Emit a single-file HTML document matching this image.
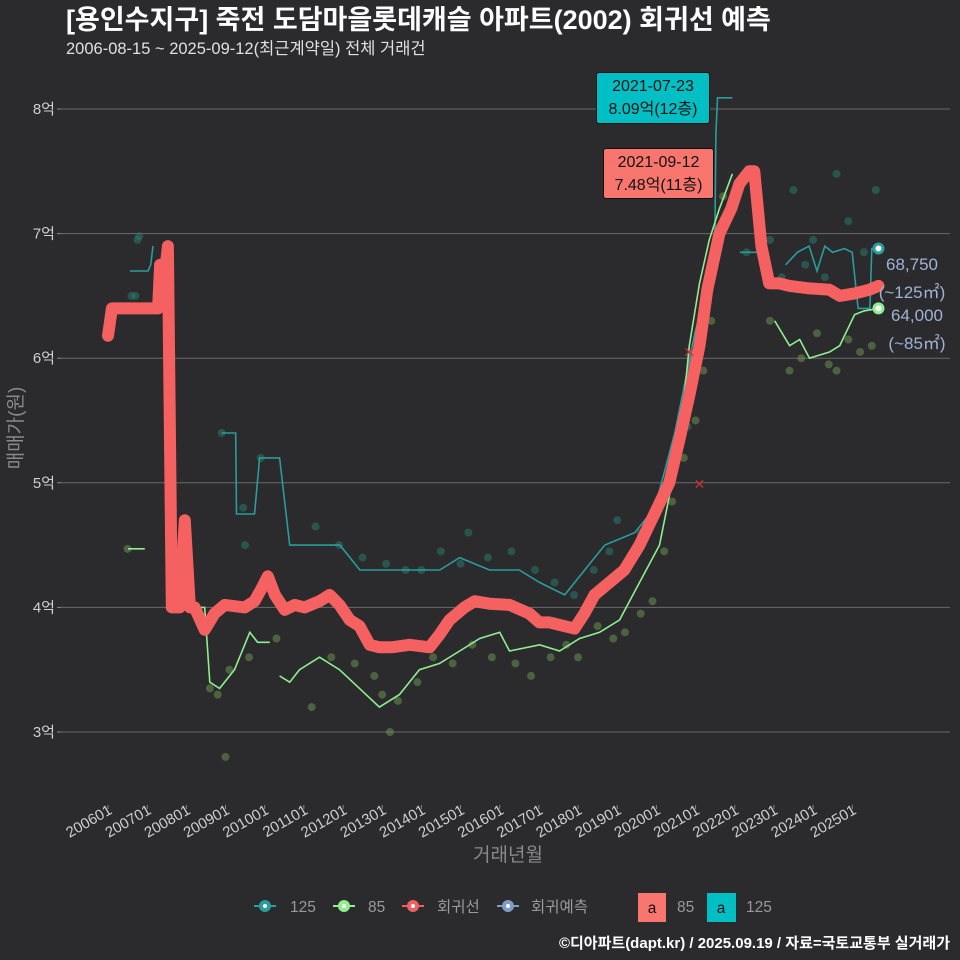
<!DOCTYPE html>
<html><head><meta charset="utf-8">
<style>
html,body{margin:0;padding:0;background:#2b2a2c;}
svg{display:block;font-family:"Liberation Sans","Noto Sans CJK KR",sans-serif;}
</style></head>
<body>
<svg id="chart" width="960" height="960" viewBox="0 0 960 960" xmlns="http://www.w3.org/2000/svg">
<rect width="960" height="960" fill="#2b2a2c"/>
<text x="66" y="29" font-size="27" font-weight="bold" fill="#ffffff">[용인수지구] 죽전 도담마을롯데캐슬 아파트(2002) 회귀선 예측</text>
<text x="66" y="54" font-size="16.5" fill="#e0e0e0">2006-08-15 ~ 2025-09-12(최근계약일) 전체 거래건</text>
<g id="grid"></g>
<g id="scatter"></g>
<g id="lines"></g>
<g id="axes"></g>
<g id="annot"></g>
<text x="508" y="861" font-size="19" fill="#8a8a8a" text-anchor="middle">거래년월</text>
<text transform="translate(22,428) rotate(-90)" font-size="19" fill="#8a8a8a" text-anchor="middle">매매가(원)</text>
<g font-size="15.5" fill="#9a9a9a">
 <g><line x1="254" y1="906" x2="276" y2="906" stroke="#2a9d9d" stroke-width="2"/><circle cx="265" cy="906" r="6" fill="#2a9d9d"/><circle cx="265" cy="906" r="2" fill="#fff"/><text x="290" y="912">125</text></g>
 <g><line x1="333" y1="906" x2="355" y2="906" stroke="#90ee90" stroke-width="2"/><circle cx="344" cy="906" r="6" fill="#90ee90"/><circle cx="344" cy="906" r="2" fill="#fff"/><text x="368" y="912">85</text></g>
 <g><line x1="402" y1="906" x2="424" y2="906" stroke="#f06060" stroke-width="2"/><circle cx="413" cy="906" r="6" fill="#f06060"/><circle cx="413" cy="906" r="2" fill="#fff"/><text x="437" y="912">회귀선</text></g>
 <g><line x1="497" y1="906" x2="519" y2="906" stroke="#7f9cc4" stroke-width="2"/><circle cx="508" cy="906" r="6" fill="#7f9cc4"/><circle cx="508" cy="906" r="2" fill="#fff"/><text x="531" y="912">회귀예측</text></g>
 <g><rect x="638" y="893" width="28" height="29" fill="#f8766d"/><text x="652" y="913" fill="#111" text-anchor="middle">a</text><text x="677" y="912">85</text></g>
 <g><rect x="707" y="893" width="29" height="29" fill="#00bfc4"/><text x="721" y="913" fill="#111" text-anchor="middle">a</text><text x="746" y="912">125</text></g>
</g>
<text x="950" y="948" font-size="15" font-weight="bold" fill="#ffffff" text-anchor="end">©디아파트(dapt.kr) / 2025.09.19 / 자료=국토교통부 실거래가</text>
</svg>
<script>
const yTicks=[3,4,5,6,7,8];
const xTickYears=[2006,2007,2008,2009,2010,2011,2012,2013,2014,2015,2016,2017,2018,2019,2020,2021,2022,2023,2024,2025];
const regYears=[2006.0,2006.1,2007.07,2007.28,2007.33,2007.43,2007.53,2007.63,2007.83,2007.96,2008.09,2008.21,2008.47,2008.72,2008.98,2009.49,2009.74,2009.92,2010.08,2010.26,2010.51,2010.77,2011.02,2011.4,2011.66,2011.91,2012.17,2012.42,2012.68,2012.93,2013.24,2013.7,2014.21,2014.46,2014.72,2015.1,2015.36,2015.74,2016.25,2016.76,2017.01,2017.27,2017.65,2017.91,2018.16,2018.42,2018.8,2019.18,2019.57,2019.95,2020.33,2020.59,2020.84,2021.1,2021.3,2021.61,2021.91,2022.12,2022.37,2022.5,2022.68,2022.88,2023.14,2023.4,2023.91,2024.42,2024.68,2025.06,2025.44,2025.67];
const regVals=[6.18,6.4,6.4,6.4,6.75,6.6,6.9,4.0,4.0,4.7,4.0,4.0,3.82,3.95,4.02,4.0,4.05,4.15,4.25,4.1,3.98,4.02,4.0,4.05,4.1,4.02,3.9,3.85,3.7,3.68,3.68,3.7,3.68,3.78,3.9,4.0,4.05,4.03,4.02,3.95,3.88,3.88,3.85,3.83,3.95,4.1,4.2,4.3,4.5,4.75,5.0,5.35,5.7,6.1,6.55,7.0,7.2,7.4,7.5,7.5,6.9,6.6,6.6,6.58,6.56,6.55,6.5,6.52,6.55,6.58];
const s125Years=[2006.56,2007.02,2007.09,2007.15,null,2008.9,2009.26,2009.28,2009.74,2009.87,2010.38,2010.64,2011.92,2012.43,2014.47,2014.98,2015.74,2016.5,2017.02,2017.66,2018.17,2018.68,2019.45,2019.96,2020.47,2020.98,2021.23,2021.49,2021.52,2021.56,2021.94,null,2022.13,2022.77,null,2023.3,2023.6,2023.9,2024.1,2024.3,2024.5,2024.8,2025.0,2025.15,2025.45,2025.5,2025.67];
const s125Vals=[6.7,6.7,6.75,6.9,null,5.4,5.4,4.75,4.75,5.2,5.2,4.5,4.5,4.3,4.3,4.4,4.3,4.3,4.2,4.1,4.3,4.5,4.6,4.8,5.4,6.2,6.5,6.8,7.8,8.09,8.09,null,6.85,6.85,null,6.75,6.85,6.9,6.7,6.9,6.85,6.88,6.85,6.4,6.4,6.88,6.88];
const s85Years=[2006.51,2006.94,null,2008.09,2008.47,2008.6,2008.85,2009.23,2009.62,2009.82,2010.13,null,2010.38,2010.64,2010.89,2011.4,2011.91,2012.42,2012.93,2013.44,2013.95,2014.46,2014.98,2015.49,2016.0,2016.25,2017.02,2017.53,2018.04,2018.55,2019.06,2019.57,2020.08,2020.59,2020.84,2021.1,2021.35,2021.61,2021.94,null,2023.02,2023.4,2023.66,2023.91,2024.42,2024.68,2025.06,2025.3,2025.67];
const s85Vals=[4.47,4.47,null,4.0,4.0,3.4,3.35,3.5,3.8,3.72,3.72,null,3.45,3.4,3.5,3.6,3.5,3.35,3.2,3.3,3.5,3.55,3.65,3.75,3.8,3.65,3.7,3.65,3.75,3.8,3.9,4.2,4.5,5.3,6.1,6.6,6.95,7.2,7.48,null,6.3,6.1,6.15,6.0,6.05,6.1,6.35,6.38,6.4];
const pt125Years=[2006.6,2006.7,2006.75,2006.8,2008.9,2009.45,2009.5,2009.9,2011.3,2011.9,2012.5,2013.1,2013.6,2014.0,2014.5,2015.0,2015.2,2015.7,2016.3,2016.9,2017.4,2017.9,2018.4,2018.8,2019.0,2019.6,2020.2,2020.5,2020.8,2020.9,2021.2,2021.4,2021.55,2022.3,2022.9,2023.2,2023.5,2023.8,2024.0,2024.3,2024.6,2024.9,2025.3,2025.6];
const pt125Vals=[6.5,6.5,6.95,6.98,5.4,4.8,4.5,5.2,4.65,4.5,4.4,4.35,4.3,4.3,4.45,4.35,4.6,4.4,4.45,4.3,4.2,4.1,4.3,4.45,4.7,4.6,4.9,5.2,5.45,6.05,6.3,6.75,7.05,6.85,6.95,6.65,7.35,6.75,6.95,6.65,7.48,7.1,6.85,7.35];
const pt85Years=[2006.5,2008.6,2008.8,2009.0,2009.1,2009.6,2010.3,2011.2,2011.7,2012.3,2012.8,2013.0,2013.2,2013.4,2013.9,2014.3,2014.8,2015.3,2015.8,2016.4,2016.8,2017.3,2017.7,2018.0,2018.5,2018.9,2019.2,2019.6,2019.9,2020.2,2020.4,2020.7,2021.0,2021.2,2021.4,2021.7,2022.9,2023.4,2023.7,2024.1,2024.4,2024.6,2024.9,2025.2,2025.5];
const pt85Vals=[4.47,3.35,3.3,2.8,3.5,3.6,3.75,3.2,3.6,3.55,3.45,3.3,3.0,3.25,3.4,3.6,3.55,3.7,3.6,3.55,3.45,3.6,3.7,3.6,3.85,3.75,3.8,3.95,4.05,4.45,4.85,5.2,5.5,5.9,6.3,7.3,6.3,5.9,6.0,6.2,5.95,5.9,6.15,6.05,6.1];
const ns="http://www.w3.org/2000/svg";
function X(yr){return 108+(yr-2006)*39.17;}
function Y(v){return 732-(v-3)*124.6;}
function el(tag,attrs,parent){const e=document.createElementNS(ns,tag);for(const k in attrs)e.setAttribute(k,attrs[k]);parent.appendChild(e);return e;}
const grid=document.getElementById('grid'),axes=document.getElementById('axes'),sc=document.getElementById('scatter'),ln=document.getElementById('lines'),an=document.getElementById('annot');
yTicks.forEach(t=>{
 const g=el('line',{x1:60,x2:950,y1:Y(t),y2:Y(t),stroke:'#6a6a6a','stroke-width':1},grid);
 
 
 const tk=el('line',{x1:57,x2:61,y1:Y(t),y2:Y(t),stroke:'#888'},axes);
 
 
 const tx=el('text',{x:55,y:Y(t)+5,'font-size':15,fill:'#cfcfcf','text-anchor':'end'},axes);
 tx.textContent=t+'억';
 
 
});
xTickYears.forEach(yr=>{
 const x=X(yr);
 const tk=el('line,'.slice(0,4),{x1:x,x2:x,y1:805,y2:809,stroke:'#888'},axes);
 
 
 const tx=el('text',{transform:'translate('+(x+5)+',813) rotate(-30)','font-size':15,fill:'#cfcfcf','text-anchor':'end'},axes);
 tx.textContent=yr+'01';
 
 
});
function pts(ys,vs,name,color){
 ys.forEach((yr,i)=>{const c=el('circle',{cx:X(yr),cy:Y(vs[i]),r:4,fill:color,'fill-opacity':0.5},sc);
 
 });
}
pts(pt125Years,pt125Vals,'point-125','#2a7f70');
pts(pt85Years,pt85Vals,'point-85','#6f9a55');
function path(ys,vs){let d='',pen=false;ys.forEach((yr,i)=>{if(yr===null){pen=false;return;}d+=(pen?'L':'M')+X(yr).toFixed(1)+','+Y(vs[i]).toFixed(1);pen=true;});return d;}
const l125=el('path',{d:path(s125Years,s125Vals),fill:'none',stroke:'#2a9d9d','stroke-width':1.6},ln);


const l85=el('path',{d:path(s85Years,s85Vals),fill:'none',stroke:'#90ee90','stroke-width':1.6},ln);


const lr=el('path',{d:path(regYears,regVals),fill:'none',stroke:'#f56060','stroke-width':12,'stroke-linejoin':'round','stroke-linecap':'round'},ln);


[[2020.84,6.05],[2021.1,4.99]].forEach(p=>{const m=el('text',{x:X(p[0]),y:Y(p[1])+5,'font-size':14,fill:'#d03030','text-anchor':'middle'},ln);m.textContent='✕';
 
 });
const e1=el('circle',{cx:X(2025.67),cy:Y(6.88),r:6,fill:'#2a9d9d'},an);


el('circle',{cx:X(2025.67),cy:Y(6.88),r:3,fill:'#fff'},an);
const e2=el('circle',{cx:X(2025.67),cy:Y(6.4),r:6,fill:'#90ee90'},an);


el('circle',{cx:X(2025.67),cy:Y(6.4),r:3,fill:'#fff'},an);
</script>
<div style="position:absolute;left:0;top:0;width:960px;height:960px;pointer-events:none;font-family:'Liberation Sans','Noto Sans CJK KR',sans-serif;">
 <div style="position:absolute;left:596px;top:72px;width:114px;height:52px;background:#00bfc4;border:1px solid #111;border-radius:3px;box-sizing:border-box;text-align:center;font-size:16px;line-height:23px;color:#111;padding-top:2px;">2021-07-23<br>8.09억(12층)</div>
 <div style="position:absolute;left:603px;top:148px;width:111px;height:51px;background:#f8766d;border:1px solid #111;border-radius:3px;box-sizing:border-box;text-align:center;font-size:16px;line-height:23px;color:#111;padding-top:2px;">2021-09-12<br>7.48억(11층)</div>
 <div style="position:absolute;left:872px;top:251px;width:80px;text-align:center;font-size:17px;line-height:28px;color:#9fb3d6;">68,750<br>(~125㎡)</div>
 <div style="position:absolute;left:877px;top:302px;width:80px;text-align:center;font-size:17px;line-height:28px;color:#9fb3d6;">64,000<br>(~85㎡)</div>
</div>
</body></html>
